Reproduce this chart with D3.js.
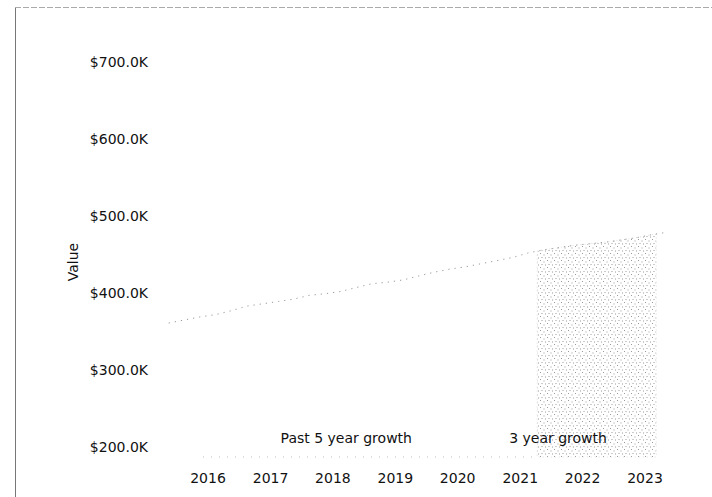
<!DOCTYPE html>
<html><head><meta charset="utf-8">
<script src="https://cdn.jsdelivr.net/npm/d3@7"></script>
<style>body{margin:0;background:#fff}svg{display:block}text{font-family:"DejaVu Sans",sans-serif}</style>
</head><body><svg id="c" width="712" height="497"></svg>
<script>
const dates = ["2015-05-16","2015-08-16","2015-11-16","2016-02-16","2016-05-16","2016-08-16","2016-11-16","2017-02-16","2017-05-16","2017-08-16","2017-11-16","2018-02-16","2018-05-16","2018-08-16","2018-11-16","2019-02-16","2019-05-16","2019-08-16","2019-11-16","2020-02-16","2020-05-16","2020-08-16","2020-11-16","2021-02-16","2021-05-16","2021-08-16","2021-11-16","2022-02-16","2022-05-16","2022-08-16","2022-11-16","2023-02-16","2023-05-16"];
const values = [361000,365000,369000,372000,377000,383000,386000,389000,392000,397000,399000,402000,407000,412000,414000,417000,422000,427000,431000,434000,438000,442000,446000,452000,456000,459000,462000,464000,466000,469000,472000,476000,479000];
const yTicks = [200000,300000,400000,500000,600000,700000];
const xTickYears = [2016,2017,2018,2019,2020,2021,2022,2023];
const baseValue = 187000;
const growth5 = {label:"Past 5 year growth", start:"2016-01-01", end:"2021-04-10", labelAt:"2018-03-20"};
const growth3 = {label:"3 year growth", start:"2021-04-10", end:"2023-03-08", labelAt:"2021-08-10"};

const parse = d3.timeParse("%Y-%m-%d");
const data = dates.map((d,i)=>({date:parse(d), value:values[i]}));
const svg = d3.select("#c");

const x = d3.scaleTime().domain([new Date(2016,0,1), new Date(2023,0,1)]).range([208,645]);
const y = d3.scaleLinear().domain([200000,700000]).range([447,62]);

// frame
svg.append("line").attr("x1",15.5).attr("x2",15.5).attr("y1",7).attr("y2",497).attr("stroke","#777").attr("stroke-width",1);
svg.append("line").attr("x1",15).attr("x2",712).attr("y1",7.5).attr("y2",7.5).attr("stroke","#aaa").attr("stroke-width",1).attr("stroke-dasharray","6,2");

// stipple pattern
const defs = svg.append("defs");
const pat = defs.append("pattern").attr("id","stip").attr("patternUnits","userSpaceOnUse").attr("width",7).attr("height",7);
[[1,1],[4.5,2.5],[2.5,5],[6,5.5]].forEach(p=>pat.append("rect").attr("x",p[0]).attr("y",p[1]).attr("width",1).attr("height",1).attr("fill","#9a9a9a"));

function interp(dt){
  const t=+dt; for(let i=0;i<data.length-1;i++){const a=data[i],b=data[i+1];if(t>=+a.date&&t<=+b.date){const f=(t-a.date)/(b.date-a.date);return a.value+f*(b.value-a.value);}}
  return data[data.length-1].value;
}
function segment(g){
  const s=parse(g.start), e=parse(g.end);
  const pts=[{date:s,value:interp(s)}].concat(data.filter(d=>d.date>s&&d.date<e)).concat([{date:e,value:interp(e)}]);
  return pts;
}
const area = d3.area().x(d=>x(d.date)).y0(y(baseValue)).y1(d=>y(d.value));
svg.append("path").datum(segment(growth3)).attr("d",area).attr("fill","url(#stip)").attr("stroke","#ccc").attr("stroke-width",0.6).attr("stroke-dasharray","1,3");

// baseline faint
svg.append("line").attr("x1",x(parse(growth5.start))-5).attr("x2",x(parse(growth3.start))).attr("y1",y(baseValue)).attr("y2",y(baseValue)).attr("stroke","#bbb").attr("stroke-dasharray","1,7");

// line
const line = d3.line().x(d=>x(d.date)).y(d=>y(d.value));
svg.append("path").datum(data).attr("d",line).attr("fill","none").attr("stroke","#999").attr("stroke-width",1).attr("stroke-dasharray","1.2,5");

// y axis labels
const fmt = v=>"$"+(v/1000).toFixed(1)+"K";
svg.append("g").selectAll("text").data(yTicks).join("text").attr("x",148).attr("y",d=>y(d)).attr("dy","0.35em").attr("text-anchor","end").attr("font-size",14).attr("fill","#111").text(fmt);
svg.append("text").attr("transform","translate(78,262) rotate(-90)").attr("text-anchor","middle").attr("font-size",14).attr("fill","#111").text("Value");

// x axis labels
svg.append("g").selectAll("text").data(xTickYears).join("text").attr("x",d=>x(new Date(d,0,1))).attr("y",483).attr("text-anchor","middle").attr("font-size",14).attr("fill","#111").text(d=>d);

// growth labels
[growth5,growth3].forEach(g=>{
  svg.append("text").attr("x",x(parse(g.labelAt))).attr("y",443).attr("text-anchor","middle").attr("font-size",14).attr("fill","#111").text(g.label);
});
</script></body></html>
